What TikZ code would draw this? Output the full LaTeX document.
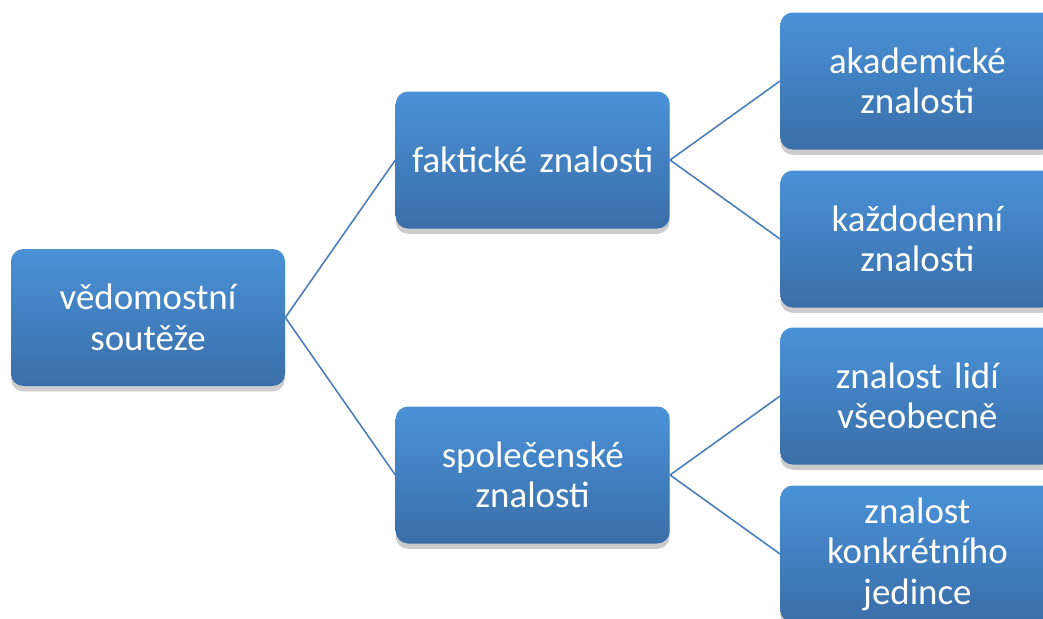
\documentclass[tikz,border=0pt]{standalone}
\usepackage{fontspec}
\setmainfont{Carlito}
\usepackage{tikz}
\usetikzlibrary{positioning, shadows}
\definecolor{quiztop}{RGB}{74, 146, 216}
\definecolor{quizbottom}{RGB}{58, 110, 168}
\definecolor{quizline}{RGB}{74, 126, 187}

\begin{document}
\begin{tikzpicture}[
        topic/.style={rectangle, rounded corners=7pt, top color=quiztop, bottom color=quizbottom, draw=none,
            text=white, text width=5.2cm, minimum width=5.48cm, minimum height=2.74cm, align=center,
            font=\fontsize{21}{23}\selectfont,
            drop shadow={shadow xshift=0pt, shadow yshift=-3pt, opacity=0.2, fill=black}},
        link/.style={draw=quizline, line width=0.9pt},
        node distance=2.2cm
    ]
        \useasboundingbox (0,0) rectangle (20.86,-12.38);
        \clip (0,0) rectangle (20.86,-12.38);
        \node[topic] (quiz) at (2.96,-6.35) {vědomostní\\soutěže};
        \node[topic, right=of quiz, yshift=3.15cm] (fact) {faktické znalosti};
        \node[topic, right=of quiz, yshift=-3.15cm] (social) {společenské\\znalosti};
        \node[topic, right=of fact, yshift=1.58cm] (academic) {akademické\\znalosti};
        \node[topic, right=of fact, yshift=-1.58cm] (daily) {každodenní\\znalosti};
        \node[topic, right=of social, yshift=1.58cm] (people) {znalost lidí\\všeobecně};
        \node[topic, right=of social, yshift=-1.58cm] (person) {znalost\\konkrétního\\jedince};
        \draw[link] (quiz.east) -- (fact.west);
        \draw[link] (quiz.east) -- (social.west);
        \draw[link] (fact.east) -- (academic.west);
        \draw[link] (fact.east) -- (daily.west);
        \draw[link] (social.east) -- (people.west);
        \draw[link] (social.east) -- (person.west);
    \end{tikzpicture}
\end{document}
